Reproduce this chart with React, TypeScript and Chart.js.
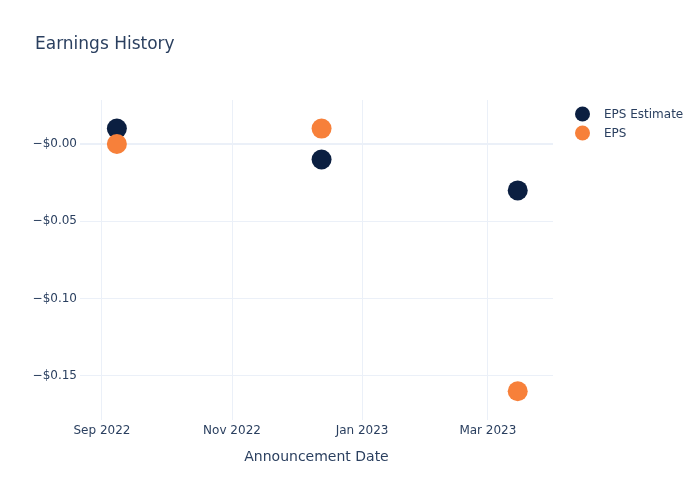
import React, { useEffect, useRef } from "react";
import { Chart, registerables } from "chart.js";

Chart.register(...registerables);

const announcementDates = ["2022-09-08", "2022-12-13", "2023-03-15"];
const epsEstimate = [0.01, -0.01, -0.03];
const epsActual = [0.0, 0.01, -0.16];
const yTickValues = [-0.15, -0.1, -0.05, 0];
const yTickLabels = ["−$0.15", "−$0.10", "−$0.05", "−$0.00"];
const xTickDates = ["2022-09-01", "2022-11-01", "2023-01-01", "2023-03-01"];
const xTickLabels = ["Sep 2022", "Nov 2022", "Jan 2023", "Mar 2023"];
const xRange = ["2022-08-21T17:00:00Z", "2023-03-31T13:00:00Z"];
const yRange = [-0.1786, 0.0285];

const TEXT = "#2a3f5f";
const GRID = "#ebf0f8";
const NAVY = "#0b1f41";
const ORANGE = "#f7803a";
const FONT = "'DejaVu Sans', 'Open Sans', sans-serif";

const ts = (d: string) => new Date(d.length === 10 ? d + "T00:00:00Z" : d).getTime();

export default function App() {
  const ref = useRef<HTMLCanvasElement | null>(null);
  useEffect(() => {
    if (!ref.current) return;
    const decor = {
      id: "decor",
      afterDraw(chart: any) {
        const c = chart.ctx;
        const a = chart.chartArea;
        c.save();
        c.fillStyle = TEXT;
        c.textBaseline = "middle";
        c.textAlign = "left";
        c.font = `17px ${FONT}`;
        c.fillText("Earnings History", 35, 45);
        c.font = `14px ${FONT}`;
        c.textAlign = "center";
        c.fillText("Announcement Date", (a.left + a.right) / 2, 457);
        const items = [
          { label: "EPS Estimate", color: NAVY },
          { label: "EPS", color: ORANGE },
        ];
        c.font = `12px ${FONT}`;
        c.textAlign = "left";
        items.forEach((it, i) => {
          const y = 114 + i * 19;
          c.beginPath();
          c.fillStyle = it.color;
          c.arc(582.5, y, 7.5, 0, Math.PI * 2);
          c.fill();
          c.fillStyle = TEXT;
          c.fillText(it.label, 604, y + 1);
        });
        c.restore();
      },
    };
    const chart = new Chart(ref.current, {
      type: "scatter",
      data: {
        datasets: [
          {
            label: "EPS",
            data: announcementDates.map((d, i) => ({ x: ts(d), y: epsActual[i] })),
            backgroundColor: ORANGE,
            borderWidth: 0,
            pointRadius: 10,
            order: 0,
          },
          {
            label: "EPS Estimate",
            data: announcementDates.map((d, i) => ({ x: ts(d), y: epsEstimate[i] })),
            backgroundColor: NAVY,
            borderWidth: 0,
            pointRadius: 10,
            order: 1,
          },
        ],
      },
      options: {
        animation: false,
        responsive: false,
        layout: { padding: { left: 0, top: 100, right: 147, bottom: 0 } },
        plugins: { legend: { display: false }, tooltip: { enabled: false }, title: { display: false } },
        scales: {
          x: {
            type: "linear",
            min: ts(xRange[0]),
            max: ts(xRange[1]),
            afterFit: (s: any) => {
              s.height = 80;
            },
            afterBuildTicks: (s: any) => {
              s.ticks = xTickDates.map((d) => ({ value: ts(d) }));
            },
            ticks: {
              color: TEXT,
              font: { family: FONT, size: 12 },
              padding: 4,
              maxRotation: 0,
              autoSkip: false,
              callback: (_v: any, i: number) => xTickLabels[i],
            },
            grid: { color: GRID, lineWidth: 1, drawTicks: false },
            border: { display: false },
          },
          y: {
            type: "linear",
            min: yRange[0],
            max: yRange[1],
            afterFit: (s: any) => {
              s.width = 80;
            },
            afterBuildTicks: (s: any) => {
              s.ticks = yTickValues.map((v) => ({ value: v }));
            },
            ticks: {
              color: TEXT,
              font: { family: FONT, size: 12 },
              padding: 3,
              autoSkip: false,
              callback: (_v: any, i: number) => yTickLabels[i],
            },
            grid: {
              color: GRID,
              lineWidth: (ctx: any) => (ctx.tick && ctx.tick.value === 0 ? 2 : 1),
              drawTicks: false,
            },
            border: { display: false },
          },
        },
      },
      plugins: [decor],
    } as any);
    return () => chart.destroy();
  }, []);
  return (
    <div style={{ position: "absolute", left: 0, top: 0, width: 700, height: 500, background: "#fff" }}>
      <canvas ref={ref} width={700} height={500} style={{ width: 700, height: 500 }} />
    </div>
  );
}
